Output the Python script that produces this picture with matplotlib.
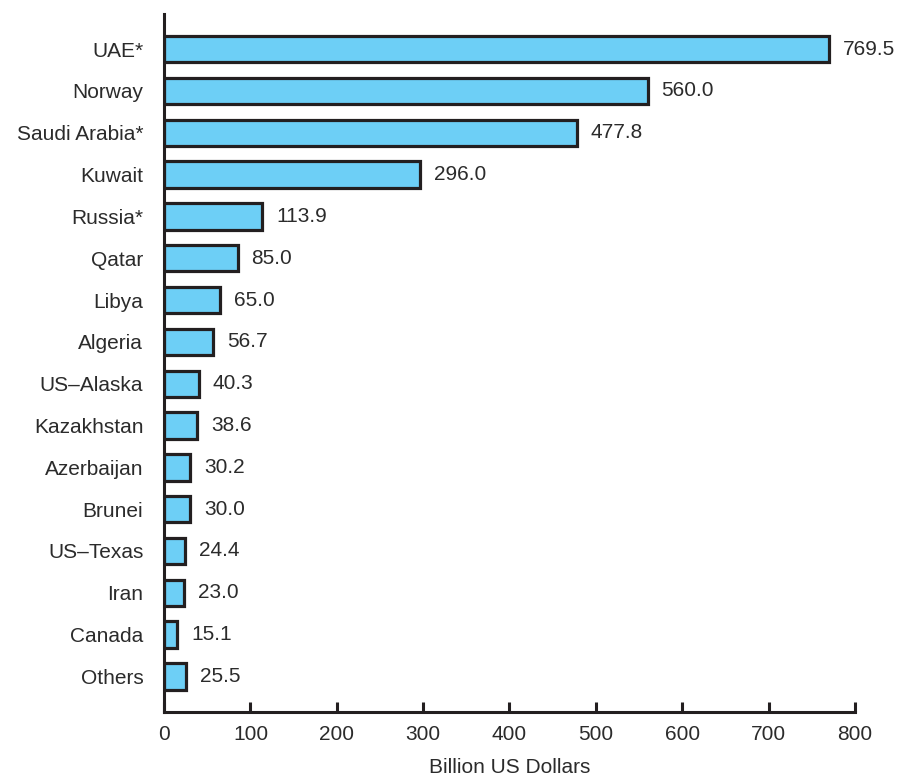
import matplotlib
matplotlib.use('Agg')
import matplotlib.pyplot as plt

# Chart data
countries = ['UAE*', 'Norway', 'Saudi Arabia*', 'Kuwait', 'Russia*', 'Qatar', 'Libya',
             'Algeria', 'US\u2013Alaska', 'Kazakhstan', 'Azerbaijan', 'Brunei',
             'US\u2013Texas', 'Iran', 'Canada', 'Others']
values = [769.5, 560.0, 477.8, 296.0, 113.9, 85.0, 65.0, 56.7, 40.3, 38.6,
          30.2, 30.0, 24.4, 23.0, 15.1, 25.5]
xticks = [0, 100, 200, 300, 400, 500, 600, 700, 800]

plt.rcParams['font.family'] = ['Liberation Sans', 'DejaVu Sans']
text_color = '#2b2b2b'
line_color = '#231f20'

fig = plt.figure(figsize=(8.97, 7.76), dpi=100)
ax = fig.add_axes([0.183, 0.083, 0.77, 0.899])

ypos = list(range(len(countries)))
ax.barh(ypos, values, height=0.63, color='#6dcff6', edgecolor=line_color, linewidth=2.3)

# value labels at the end of each bar
for y, v in zip(ypos, values):
    ax.annotate('{:.1f}'.format(v), xy=(v, y), xytext=(10, 0), textcoords='offset points',
                va='center', ha='left', fontsize=15, color=text_color)

ax.set_ylim(len(countries) - 1 + 0.84, -0.84)
ax.set_xlim(0, 800)
ax.set_yticks(ypos)
ax.set_yticklabels(countries, fontsize=15, color=text_color)
ax.set_xticks(xticks)
ax.set_xticklabels([str(t) for t in xticks], fontsize=15, color=text_color)
ax.tick_params(axis='y', length=0, pad=15)
ax.tick_params(axis='x', direction='in', length=7, width=2.2, pad=10, color=line_color)

for side in ['top', 'right']:
    ax.spines[side].set_visible(False)
for side in ['left', 'bottom']:
    ax.spines[side].set_linewidth(2.2)
    ax.spines[side].set_color(line_color)

ax.set_xlabel('Billion US Dollars', fontsize=15, color=text_color, labelpad=10)

fig.savefig('out.png', dpi=100)
